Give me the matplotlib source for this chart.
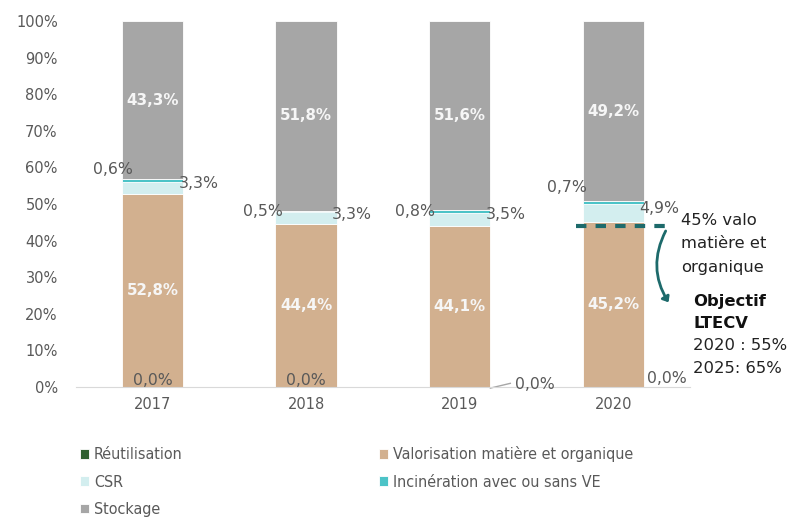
import numpy as np
import matplotlib.pyplot as plt
from matplotlib.patches import FancyArrowPatch

years = ['2017', '2018', '2019', '2020']
reutilisation = [0.0, 0.0, 0.0, 0.0]
valorisation = [52.8, 44.4, 44.1, 45.2]
csr = [3.3, 3.3, 3.5, 4.9]
incineration = [0.6, 0.5, 0.8, 0.7]
stockage = [43.3, 51.8, 51.6, 49.2]

series_names = ['Réutilisation', 'Valorisation matière et organique', 'CSR',
                'Incinération avec ou sans VE', 'Stockage']
colors = ['#2d5f2e', '#d2b08f', '#d3eeef', '#4cc3c7', '#a6a6a6']

grey = '#595959'

def fmt(v):
    return f'{v:.1f}%'.replace('.', ',')

fig = plt.figure(figsize=(7.9, 5.18), dpi=100)
ax = fig.add_axes([75.75 / 790, 1 - 387 / 518, (690 - 75.75) / 790, (387 - 21) / 518])

x = np.arange(len(years))
w = 0.4
series = [reutilisation, valorisation, csr, incineration, stockage]
bottom = np.zeros(len(years))
bars = []
for vals, name, c in zip(series, series_names, colors):
    b = ax.bar(x, vals, w, bottom=bottom, color=c, label=name,
               edgecolor='white', linewidth=0.6)
    bars.append(b)
    bottom = bottom + np.array(vals)

ax.set_xlim(-0.5, 3.5)
ax.set_ylim(0, 100)
ax.set_yticks(np.arange(0, 101, 10))
ax.set_yticklabels([f'{t}%' for t in range(0, 101, 10)])
ax.set_xticks(x)
ax.set_xticklabels(years)
ax.tick_params(length=0, colors=grey, labelsize=10.5)
ax.tick_params(axis='y', pad=13)
ax.tick_params(axis='x', pad=7)
for s in ['top', 'right', 'left']:
    ax.spines[s].set_visible(False)
ax.spines['bottom'].set_color('#d9d9d9')

fs = 11.3
# labels inside bars
for i in range(len(years)):
    ax.text(i, valorisation[i] / 2, fmt(valorisation[i]), ha='center', va='center',
            color='#f6f6f6', fontsize=10.8, fontweight='bold')
    top_base = valorisation[i] + csr[i] + incineration[i]
    ax.text(i, top_base + stockage[i] / 2, fmt(stockage[i]), ha='center', va='center',
            color='#f6f6f6', fontsize=10.8, fontweight='bold')
    # CSR on the right
    ax.text(i + w / 2 - 0.03, valorisation[i] + csr[i] / 2 + 1.2, fmt(csr[i]),
            ha='left', va='center', color=grey, fontsize=fs)

# incineration labels on the left
inc_dy = [3.0, 0.0, 0.0, 4.0]
inc_dx = [0.07, 0.05, 0.04, 0.03]
for i in range(len(years)):
    yv = valorisation[i] + csr[i] + incineration[i] / 2 + inc_dy[i]
    ax.text(i - w / 2 + inc_dx[i], yv, fmt(incineration[i]), ha='right', va='center',
            color=grey, fontsize=fs)

# reutilisation labels (0,0%)
ax.text(0, 1.8, fmt(reutilisation[0]), ha='center', va='center', color=grey, fontsize=fs)
ax.text(1, 1.8, fmt(reutilisation[1]), ha='center', va='center', color=grey, fontsize=fs)
ax.plot([2 + w / 2, 2.33], [-0.3, 1.0], color='#a6a6a6', lw=1, clip_on=False)
ax.text(2.36, 0.6, fmt(reutilisation[2]), ha='left', va='center', color=grey, fontsize=fs)
ax.text(3 + w / 2 + 0.02, 2.2, fmt(reutilisation[3]), ha='left', va='center',
        color=grey, fontsize=fs)

# objectif line and annotation
teal = '#1d6a6b'
ax.plot([2.76, 3.35], [44.0, 44.0], color=teal, lw=3, ls=(0, (2.5, 2.2)), clip_on=False)
arr = FancyArrowPatch((3.35, 43.3), (3.37, 22.5), connectionstyle='arc3,rad=0.3',
                      arrowstyle='-|>,head_length=3,head_width=2.5', color=teal, lw=2,
                      clip_on=False)
ax.add_patch(arr)
afs = 11.8
ax.text(3.44, 47.6, '45% valo\nmatière et\norganique', ha='left', va='top',
        fontsize=afs, color='#222222', linespacing=1.7)
ax.text(3.52, 25.5, 'Objectif\nLTECV', ha='left', va='top', fontsize=afs,
        fontweight='bold', color='#111111', linespacing=1.65)
ax.text(3.52, 13.4, '2020 : 55%\n2025: 65%', ha='left', va='top', fontsize=afs,
        color='#222222', linespacing=1.65)

handles = [bars[0], bars[2], bars[4], bars[1], bars[3]]
labels = [series_names[0], series_names[2], series_names[4], series_names[1], series_names[3]]
fig.legend(handles, labels, loc='upper left', bbox_to_anchor=(74 / 790, 1 - 440 / 518),
           ncol=2, frameon=False, handlelength=0.55, handleheight=0.55, handletextpad=0.3,
           columnspacing=12.3, labelspacing=0.78, borderaxespad=0,
           prop={'family': 'DejaVu Sans', 'stretch': 'condensed', 'size': 11.5},
           labelcolor=grey)

fig.savefig('out.png', dpi=100)
